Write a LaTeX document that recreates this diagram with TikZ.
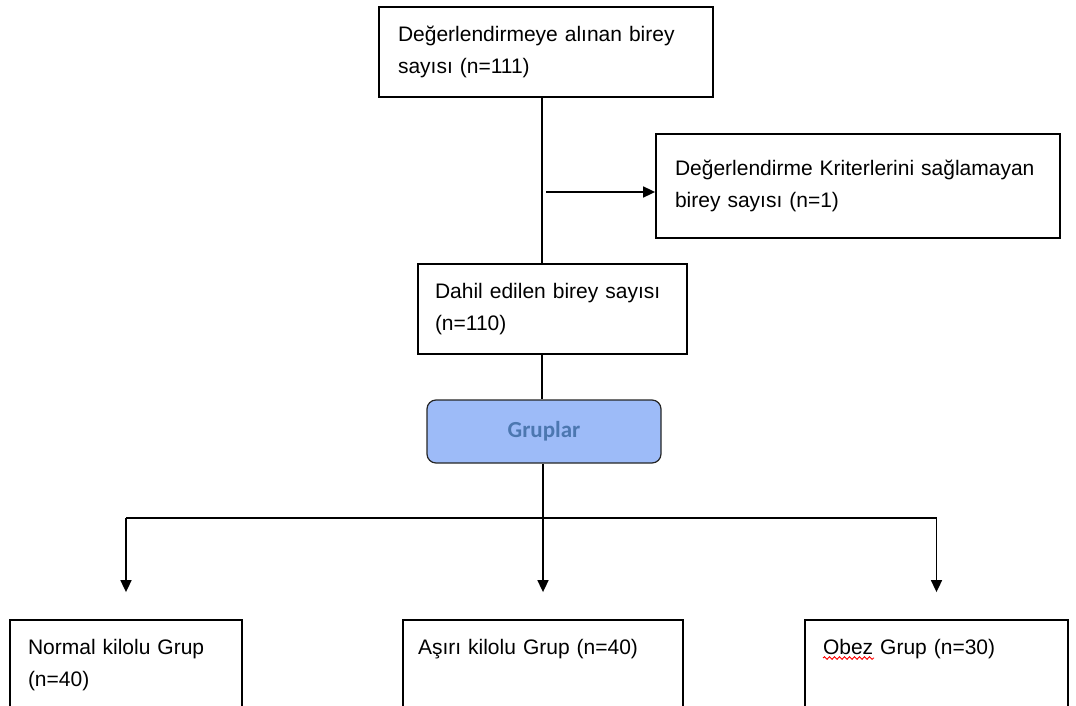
\documentclass[tikz,border=0pt]{standalone}
\usepackage{fontspec}
\setmainfont{Liberation Sans}
\newfontfamily\grupfont{Carlito}
\usetikzlibrary{arrows.meta,decorations.pathmorphing}
\definecolor{grupfill}{HTML}{9DBBF8}
\definecolor{gruptext}{HTML}{4C77B0}
\tikzset{
  kutu/.style={draw, line width=1.8pt, align=left, inner ysep=0pt,
    font=\fontsize{21}{32}\selectfont},
  hat/.style={line width=1.7pt},
  ok/.style={line width=1.7pt, -{Triangle[length=12pt,width=11pt]}},
}

\begin{document}
\begin{tikzpicture}[x=1pt,y=-1pt]
\useasboundingbox (0,0) rectangle (1076,706);
\clip (0,0) rectangle (1076,706);

\node[kutu, text width=296pt, inner xsep=19pt, minimum height=90pt] (top) at (546,52) {Değerlendirmeye alınan birey\\sayısı (n=111)};
\node[kutu, text width=366pt, inner xsep=19pt, minimum height=104pt] (excl) at (858,186) {Değerlendirme Kriterlerini sağlamayan\\birey sayısı (n=1)};
\node[kutu, text width=235pt, inner xsep=17pt, minimum height=90pt] (dahil) at (552.5,309) {Dahil edilen birey sayısı\\(n=110)};
\node[draw=black!85, line width=1.2pt, fill=grupfill, rounded corners=9pt, minimum width=234pt, minimum height=63pt,
  font=\grupfont\bfseries\fontsize{23}{28}\selectfont, text=gruptext] (gruplar) at (544,431.5) {Gruplar};

\node[kutu, text width=196pt, inner xsep=18pt, minimum height=91pt] (normal) at (126,665.5) {Normal kilolu Grup\\(n=40)};
\node[kutu, text width=250pt, inner xsep=15pt, minimum height=91pt, text depth=36.5pt] (asiri) at (543,665.5) {Aşırı kilolu Grup (n=40)};
\node[kutu, text width=227pt, inner xsep=18pt, minimum height=91pt, text depth=36.5pt] (obez) at (936.5,665.5) {Obez Grup (n=30)};

\coordinate (spine) at (542,0);
\coordinate (split) at (546,192);
\coordinate (bus) at (543,518);

\draw[hat] (top.south -| spine) -- (dahil.north -| spine);
\draw[ok] (split) -- (split -| excl.west);
\draw[line width=1.2pt] (dahil.south -| spine) -- (gruplar.north -| spine);
\draw[hat] (gruplar.south -| bus) -- (bus);
\draw[hat] (bus -| normal.north) -- (bus -| obez.north);
\draw[ok] (bus -| normal.north) -- ([yshift=27pt]normal.north);
\draw[ok] (bus) -- ([yshift=27pt]asiri.north -| bus);
\draw[ok] (bus -| obez.north) -- ([yshift=27pt]obez.north);

% yazim denetimi cizgisi
\draw[red, line width=0.9pt, decorate, decoration={snake, amplitude=1.3pt, segment length=5pt}] (823,658) -- (874,658);
\end{tikzpicture}
\end{document}
